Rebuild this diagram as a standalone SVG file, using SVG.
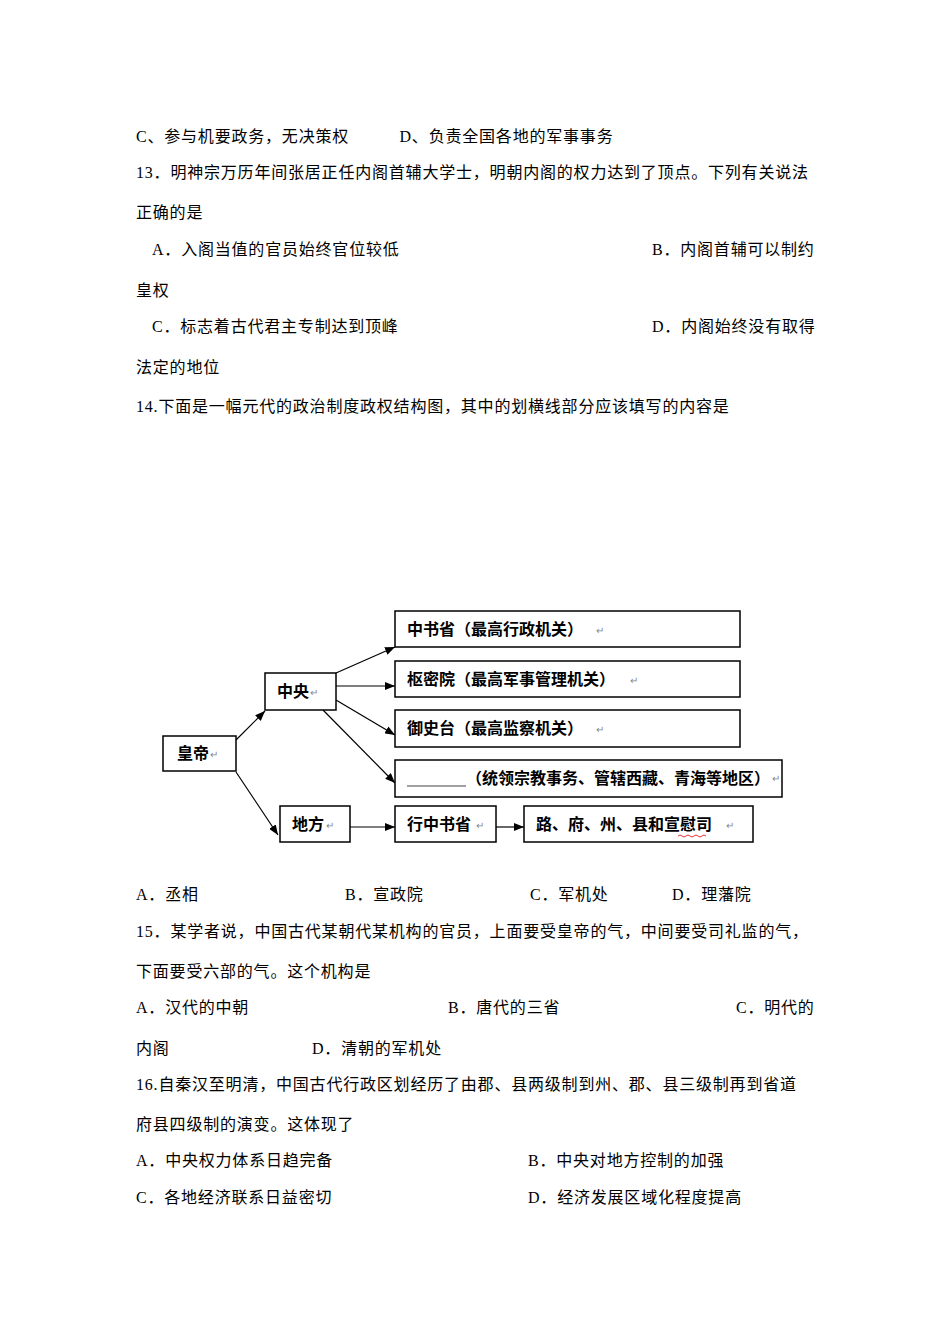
<svg xmlns="http://www.w3.org/2000/svg" width="950" height="1344" viewBox="0 0 950 1344">
<style>
.t{font-family:"Liberation Serif","Noto Sans CJK SC",serif;font-size:16px;fill:#000;letter-spacing:0.8px}
.b{fill:#fff;stroke:#000;stroke-width:1.5}
.n{font-family:"Noto Sans CJK SC",sans-serif;font-size:16px;font-weight:bold;fill:#000}
.p{font-family:"Noto Sans CJK SC",sans-serif;font-size:10px;fill:#888}
.c line{stroke:#000;stroke-width:1.2;marker-end:url(#a)}
</style>
<defs><marker id="a" markerWidth="10" markerHeight="8" refX="10" refY="4" orient="auto" markerUnits="userSpaceOnUse"><path d="M0,0L10,4L0,8z" fill="#000"/></marker></defs>
<rect width="950" height="1344" fill="#fff"/>
<g class="t">
<text x="136" y="142">C、参与机要政务，无决策权　　　D、负责全国各地的军事事务</text>
<text x="136" y="178">13．明神宗万历年间张居正任内阁首辅大学士，明朝内阁的权力达到了顶点。下列有关说法</text>
<text x="136" y="218">正确的是</text>
<text x="152" y="255">A．入阁当值的官员始终官位较低</text>
<text x="652" y="255">B．内阁首辅可以制约</text>
<text x="136" y="296">皇权</text>
<text x="152" y="332">C．标志着古代君主专制达到顶峰</text>
<text x="652" y="332">D．内阁始终没有取得</text>
<text x="136" y="373">法定的地位</text>
<text x="136" y="412">14.下面是一幅元代的政治制度政权结构图，其中的划横线部分应该填写的内容是</text>
<text x="136" y="900">A．丞相</text>
<text x="345" y="900">B．宣政院</text>
<text x="530" y="900">C．军机处</text>
<text x="672" y="900">D．理藩院</text>
<text x="136" y="937">15．某学者说，中国古代某朝代某机构的官员，上面要受皇帝的气，中间要受司礼监的气，</text>
<text x="136" y="977">下面要受六部的气。这个机构是</text>
<text x="136" y="1013">A．汉代的中朝</text>
<text x="448" y="1013">B．唐代的三省</text>
<text x="736" y="1013">C．明代的</text>
<text x="136" y="1054">内阁</text>
<text x="312" y="1054">D．清朝的军机处</text>
<text x="136" y="1090">16.自秦汉至明清，中国古代行政区划经历了由郡、县两级制到州、郡、县三级制再到省道</text>
<text x="136" y="1130">府县四级制的演变。这体现了</text>
<text x="136" y="1166">A．中央权力体系日趋完备</text>
<text x="528" y="1166">B．中央对地方控制的加强</text>
<text x="136" y="1203">C．各地经济联系日益密切</text>
<text x="528" y="1203">D．经济发展区域化程度提高</text>
</g>
<g class="c">
<line x1="236" y1="740" x2="265" y2="711"/>
<line x1="236" y1="772" x2="278" y2="835"/>
<line x1="336" y1="673" x2="395" y2="647"/>
<line x1="336" y1="686" x2="395" y2="686"/>
<line x1="336" y1="700" x2="395" y2="735"/>
<line x1="323" y1="710" x2="395" y2="783"/>
<line x1="350" y1="827" x2="395" y2="827"/>
<line x1="496" y1="827" x2="524" y2="827"/>
</g>
<g id="n1"><rect class="b" x="163" y="736" width="73" height="35"/><text class="n" x="177" y="759">皇帝</text><text class="p" x="210" y="758">↵</text></g>
<g id="n2"><rect class="b" x="265" y="673" width="71" height="37"/><text class="n" x="277" y="697">中央</text><text class="p" x="310" y="696">↵</text></g>
<g id="n3"><rect class="b" x="395" y="611" width="345" height="36"/><text class="n" x="407" y="635">中书省（最高行政机关）</text><text class="p" x="596" y="634">↵</text></g>
<g id="n4"><rect class="b" x="395" y="661" width="345" height="36"/><text class="n" x="407" y="685">枢密院（最高军事管理机关）</text><text class="p" x="630" y="684">↵</text></g>
<g id="n5"><rect class="b" x="395" y="710" width="345" height="37"/><text class="n" x="407" y="734">御史台（最高监察机关）</text><text class="p" x="596" y="733">↵</text></g>
<g id="n6"><rect class="b" x="395" y="760" width="387" height="37"/><line x1="407" y1="786" x2="466" y2="786" stroke="#444" stroke-width="1.2"/><text class="n" x="466" y="784">（统领宗教事务、管辖西藏、青海等地区）</text><text class="p" x="772" y="782">↵</text></g>
<g id="n7"><rect class="b" x="280" y="806" width="70" height="36"/><text class="n" x="292" y="830">地方</text><text class="p" x="326" y="829">↵</text></g>
<g id="n8"><rect class="b" x="395" y="806" width="101" height="36"/><text class="n" x="407" y="830">行中书省</text><text class="p" x="476" y="829">↵</text></g>
<g id="n9"><rect class="b" x="524" y="806" width="229" height="36"/><text class="n" x="536" y="830" font-size="17">路、府、州、县和宣慰司</text><text class="p" x="726" y="829">↵</text><path d="M678,836 q2,-2 4,0 t4,0 t4,0 t4,0 t4,0 t4,0 t4,0" fill="none" stroke="#d00" stroke-width="0.8"/></g>
</svg>
